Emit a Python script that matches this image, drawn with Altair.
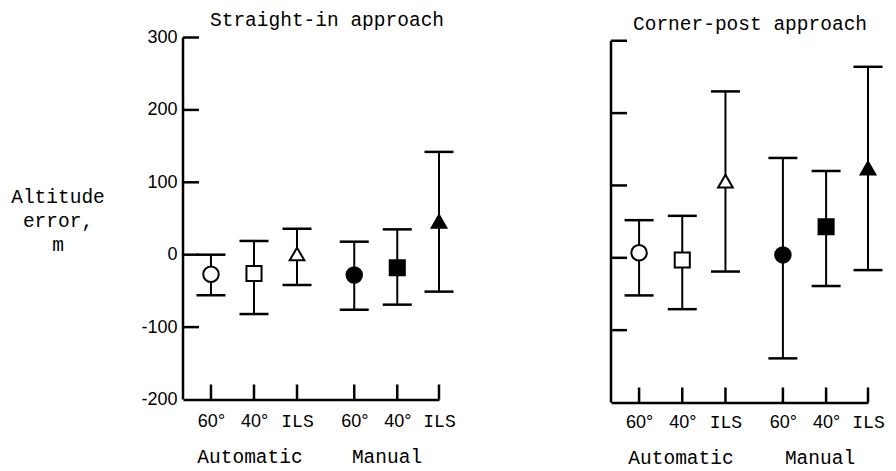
import json
import altair as alt
import pandas as pd

# ---------------- data ----------------
labels = ["60°", "40°", "ILS", "60°", "40°", "ILS"]
modes = ["Automatic", "Automatic", "Automatic", "Manual", "Manual", "Manual"]
shapes = ["circle", "square", "triangle-up", "circle", "square", "triangle-up"]
slots = [1, 2, 3, 4.33, 5.33, 6.3]

straight_mean = [-27, -26, 1, -28, -18, 46]
straight_low = [-56, -82, -42, -76, -69, -51]
straight_high = [0, 19, 36, 18, 35, 142]

corner_mean = [7, -3, 106, 4, 43, 124]
corner_low = [-52, -71, -19, -139, -39, -17]
corner_high = [52, 58, 230, 138, 120, 264]

panel_titles = ["Straight-in approach", "Corner-post approach"]
group_labels = ["Automatic", "Manual"]
y_title_lines = ["Altitude", "error,", "m"]
y_ticks = [-200, -100, 0, 100, 200, 300]

MONO = "Liberation Mono"
SANS = "Liberation Sans"
INK = "black"

label_expr = "(" + json.dumps({str(s): l for s, l in zip(slots, labels)}, ensure_ascii=False) + ")[datum.value]"
ils_test = " || ".join(f"datum.value == {s}" for s, l in zip(slots, labels) if l == "ILS")


def panel(mean, low, high, title, width, height, ydomain, show_labels,
          x_label_pad, title_dx, title_y, group_y, group_x):
    df = pd.DataFrame({"slot": slots, "label": labels, "mode": modes, "shape": shapes,
                       "mean": mean, "low": low, "high": high})
    xaxis = alt.Axis(values=slots, labelExpr=label_expr, ticks=False, tickSize=0,
                     domain=True, domainColor=INK, domainWidth=2.5, grid=False,
                     labelPadding=x_label_pad, labelFontSize=18,
                     labelFont=alt.condition(ils_test, alt.value(MONO), alt.value(SANS)),
                     labelColor=INK, labelFlush=False, labelOverlap=False, title=None)
    xscale = alt.Scale(domain=[0.35, slots[-1]], nice=False, zero=False)
    yscale = alt.Scale(domain=ydomain, nice=False, zero=False)
    if show_labels:
        yaxis = alt.Axis(values=y_ticks, domain=False, ticks=False, tickSize=0, grid=False,
                         labelPadding=6, labelFontSize=18, labelFont=SANS, labelColor=INK,
                         labelFlush=False, labelOverlap=False, title=None,
                         labelExpr="replace(datum.label, '\u2212', '-')")
    else:
        yaxis = None

    def X(field):
        return alt.X(field, type="quantitative", scale=xscale, axis=xaxis)

    def Y(field):
        return alt.Y(field, type="quantitative", scale=yscale, axis=yaxis)

    base = alt.Chart(df)

    bars = base.mark_rule(color=INK, strokeWidth=2).encode(x=X("slot"), y=Y("low"), y2="high")
    cap_lo = base.mark_tick(orient="horizontal", size=29, thickness=2.5, color=INK, opacity=1).encode(
        x=X("slot"), y=Y("low"))
    cap_hi = base.mark_tick(orient="horizontal", size=29, thickness=2.5, color=INK, opacity=1).encode(
        x=X("slot"), y=Y("high"))
    pts = base.mark_point(filled=True, stroke=INK, strokeWidth=2, opacity=1, fillOpacity=1,
                          strokeOpacity=1).encode(
        x=X("slot"), y=Y("mean"),
        shape=alt.Shape("shape:N", scale=None),
        fill=alt.Fill("mode:N", scale=alt.Scale(domain=group_labels, range=["white", INK]), legend=None),
        size=alt.Size("shape:N", scale=alt.Scale(domain=["circle", "square", "triangle-up"],
                                                  range=[240, 215, 300]), legend=None),
    )

    yline = alt.Chart(pd.DataFrame({"top": [y_ticks[-1]], "bottom": [y_ticks[0]]})).mark_rule(
        color=INK, strokeWidth=2.5).encode(x=alt.value(0), y=Y("top"), y2="bottom")
    yt = alt.Chart(pd.DataFrame({"v": y_ticks[1:]})).mark_rule(color=INK, strokeWidth=2.5).encode(
        y=Y("v"), x=alt.value(0), x2=alt.value(16))
    xt = alt.Chart(pd.DataFrame({"slot": slots})).mark_rule(color=INK, strokeWidth=2.5).encode(
        x=X("slot"), y=alt.value(height - 15), y2=alt.value(height))

    ttl = alt.Chart(pd.DataFrame({"t": [title]})).mark_text(
        font=MONO, fontSize=19.5, align="left", baseline="top", color=INK).encode(
        text="t:N", x=alt.value(title_dx), y=alt.value(title_y))
    layers = [yline, yt, xt, bars, cap_lo, cap_hi, pts, ttl]
    for g, gx in zip(group_labels, group_x):
        layers.append(alt.Chart(pd.DataFrame({"t": [g]})).mark_text(
            font=MONO, fontSize=19.5, align="center", baseline="top", color=INK).encode(
            text="t:N", x=alt.value(gx), y=alt.value(group_y)))
    if show_labels:
        layers.append(alt.Chart(pd.DataFrame({"t": ["\n".join(y_title_lines)]})).mark_text(
            font=MONO, fontSize=19.5, align="center", baseline="top", color=INK,
            lineBreak="\n", lineHeight=24).encode(
            text="t:N", x=alt.value(-125), y=alt.value(150)))
    return alt.layer(*layers).properties(width=width, height=height)


left = panel(straight_mean, straight_low, straight_high, panel_titles[0], 256, 362,
             [-200, 300], True, 13, 27, -26.5, 410, [67, 204])
right = panel(corner_mean, corner_low, corner_high, panel_titles[1], 257, 365,
              [-200, 304.5], False, 11, 22, -22.5, 411, [70, 209])

chart = alt.hconcat(left, right, spacing=172, bounds="flush").properties(
    padding={"left": 11, "top": 9.5, "right": 0, "bottom": 3},
    background="white",
).configure_view(stroke=None)

chart.save("out.html", embed_options={"renderer": "svg", "actions": False})
